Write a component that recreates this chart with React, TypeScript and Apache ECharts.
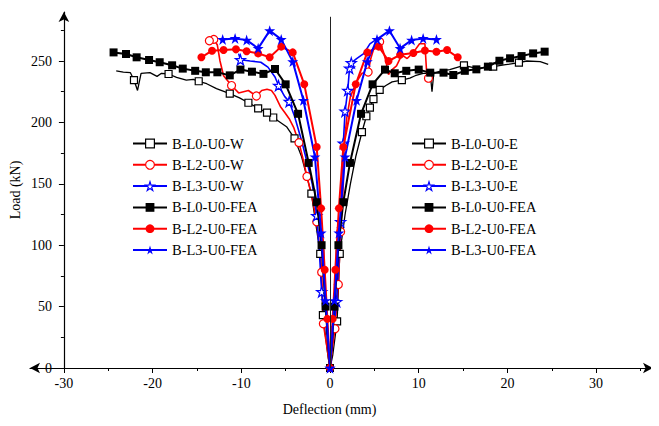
import React, { useEffect, useRef } from 'react';
import * as echarts from 'echarts';

const SERIF = '"Liberation Serif", "Times New Roman", serif';
const BLACK = '#000000';
const RED = '#ff0000';
const BLUE = '#0000ff';
const STAR =
  'path://M0,-10L2.245,-3.09L9.51,-3.09L3.633,1.18L5.88,8.09L0,3.82L-5.88,8.09L-3.633,1.18L-9.51,-3.09L-2.245,-3.09Z';

// ---- tick labels / axis ranges ----
const X_TICKS = [-30, -20, -10, 0, 10, 20, 30];
const Y_TICKS = [0, 50, 100, 150, 200, 250];

// ---- experimental curves (line path) + their marker points ----
const L0_W = [[0, 0], [-0.2, 8], [-0.8, 43], [-1.1, 93], [-2.1, 142], [-3.2, 172], [-4.0, 187], [-4.9, 196.5], [-6.4, 204], [-7.1, 208], [-8.1, 211.5], [-9.2, 216], [-10.2, 220], [-11.3, 223.5], [-12.8, 227.5], [-13.9, 231.5], [-14.8, 233.5], [-15.4, 235], [-16.2, 234.5], [-17.3, 236.7], [-18.2, 239.4], [-19.0, 240], [-19.5, 237.5], [-20.3, 240.5], [-21.3, 240], [-21.7, 226], [-22.1, 234.5], [-22.5, 240.5], [-23.3, 241], [-24.1, 242]];
const L0_W_MARKS = [[-0.8, 43], [-1.1, 93], [-2.1, 142], [-4.0, 187], [-6.4, 204], [-7.1, 208], [-8.1, 211.5], [-9.2, 216], [-11.3, 223.5], [-14.8, 233.5], [-18.2, 239.4], [-22.1, 234.5]];

const L2_W = [[0, 0], [-0.3, 15], [-0.75, 36], [-0.94, 78], [-1.2, 100], [-1.5, 119], [-2.0, 138], [-2.6, 156], [-3.1, 172], [-3.5, 183.5], [-4.1, 196], [-4.6, 203], [-5.1, 208], [-5.6, 213], [-6.2, 222], [-6.6, 226], [-7.1, 227], [-7.7, 226], [-8.3, 221.5], [-9.2, 226], [-10.3, 224], [-11.1, 230], [-12.0, 238], [-12.4, 250], [-12.7, 263], [-13.1, 267.6], [-13.6, 266.5]];
const L2_W_MARKS = [[-0.75, 36], [-0.94, 78], [-1.5, 119], [-2.6, 156], [-3.5, 183.5], [-8.3, 221.5], [-11.1, 230], [-13.1, 267.6], [-13.6, 266.5]];

const L3_W = [[0, 0], [-0.3, 25], [-0.94, 62], [-1.2, 95], [-1.5, 124], [-2.0, 150], [-2.5, 165], [-3.2, 185], [-4.0, 205], [-4.6, 217], [-5.1, 221], [-5.8, 230], [-6.2, 237], [-7.0, 245], [-7.8, 249], [-9.0, 250], [-10.1, 251], [-10.3, 256]];
const L3_W_MARKS = [[-0.94, 62], [-1.5, 124], [-4.6, 217], [-5.8, 230], [-10.1, 251]];

const L0_E = [[0, 0], [0.3, 10], [0.8, 38], [1.1, 93], [1.7, 125], [2.3, 150], [2.9, 172], [3.6, 192], [4.1, 205], [4.5, 212], [4.9, 219], [5.6, 226.5], [6.3, 230], [7.0, 233], [8.1, 234.5], [9.0, 236], [9.6, 238], [10.5, 240], [11.3, 240], [11.5, 225], [11.7, 240], [12.5, 242], [13.5, 243], [15.1, 246.5], [16.5, 244], [18.4, 245.4], [19.8, 247], [21.3, 248.6], [22.2, 250], [23.7, 249.5], [24.6, 247.3]];
const L0_E_MARKS = [[0.8, 38], [1.1, 93], [3.6, 192], [4.1, 205], [4.5, 212], [4.9, 219], [5.6, 226.5], [8.1, 234.5], [15.1, 246.5], [18.4, 245.4], [21.3, 248.6]];

const L2_E = [[0, 0], [0.25, 15], [0.56, 32], [0.94, 68], [1.2, 111], [1.5, 150], [1.6, 183], [1.9, 204], [2.3, 221], [3.0, 233], [3.6, 240], [4.3, 241], [4.6, 252], [5.1, 264], [5.6, 265.7], [6.0, 258], [6.3, 250], [6.6, 239], [7.0, 243], [7.5, 246], [8.1, 255], [8.7, 252], [9.4, 257], [10.1, 264], [10.7, 264], [10.9, 240], [11.2, 235]];
const L2_E_MARKS = [[0.56, 32], [0.94, 68], [1.2, 111], [4.3, 241], [5.6, 265.7], [11.1, 236]];

const L3_E = [[0, 0], [0.3, 25], [0.75, 54], [1.0, 90], [1.2, 119], [1.3, 150], [1.5, 183], [1.7, 209], [2.0, 226], [2.2, 244], [2.4, 248.5], [3.0, 252], [3.8, 256], [4.5, 264], [5.1, 267], [5.5, 268]];
const L3_E_MARKS = [[0.75, 54], [1.2, 119], [1.5, 183], [1.7, 209], [2.0, 226], [2.2, 244], [2.4, 248.5]];

// ---- FEA curves ----
const L0_FEA_W = [[0, 0], [-0.5, 50], [-0.95, 100], [-1.5, 135], [-2.4, 167], [-3.6, 207], [-5.0, 231], [-6.2, 243.5], [-7.5, 239.5], [-8.8, 241.3], [-10.1, 243], [-11.3, 238.3], [-12.7, 240.8], [-14.0, 240.8], [-15.2, 242], [-16.6, 243.8], [-17.8, 246.5], [-19.2, 249], [-20.4, 250.8], [-21.8, 253], [-23.0, 255.7], [-24.4, 257]];
const L0_FEA_E = [[0, 0], [0.5, 50], [0.95, 100], [1.5, 135], [2.25, 167], [3.5, 207], [4.8, 231], [6.2, 243], [7.3, 240], [8.6, 242], [10.0, 243], [11.3, 240.5], [12.8, 240.5], [13.9, 238.6], [15.2, 242], [16.5, 243.2], [17.8, 245.4], [19.1, 250.2], [20.3, 252.2], [21.6, 254], [22.9, 256.2], [24.2, 257.6]];
const L2_FEA_W = [[0, 0], [-0.3, 40], [-0.6, 80], [-1.0, 130], [-1.5, 180], [-2.9, 231], [-4.2, 257], [-5.5, 261.7], [-6.8, 253], [-8.1, 256.2], [-9.4, 258], [-10.6, 259.5], [-12.0, 259], [-13.3, 258.4], [-14.5, 253]];
const L2_FEA_E = [[0, 0], [0.3, 40], [0.6, 80], [1.0, 130], [1.5, 180], [2.9, 231], [4.2, 257], [5.5, 261.7], [6.6, 250], [7.9, 255], [9.4, 256.5], [10.7, 258.5], [12.0, 257.6], [13.2, 259], [14.4, 253]];
const L3_FEA_W = [[0, 0], [-0.5, 55], [-1.0, 110], [-1.7, 172], [-3.0, 218], [-4.2, 249.5], [-5.5, 267.6], [-6.8, 274.7], [-8.1, 260.3], [-9.4, 267], [-10.7, 268.4], [-12.1, 267.6]];
const L3_FEA_E = [[0, 0], [0.5, 55], [1.0, 110], [1.7, 172], [3.0, 218], [4.2, 249.5], [5.3, 267.6], [6.7, 274.7], [7.9, 260.3], [9.2, 267], [10.5, 268.4], [12.0, 267.6]];

const NAMES = {
  l0w: 'B-L0-U0-W', l2w: 'B-L2-U0-W', l3w: 'B-L3-U0-W',
  l0e: 'B-L0-U0-E', l2e: 'B-L2-U0-E', l3e: 'B-L3-U0-E',
  l0f: 'B-L0-U0-FEA', l2f: 'B-L2-U0-FEA', l3f: 'B-L3-U0-FEA',
};

type Sty = { color: string; symbol: string; size: number; hollow: boolean; width: number };
const STY: Record<string, Sty> = {
  l0w: { color: BLACK, symbol: 'rect', size: 7, hollow: true, width: 1.3 },
  l2w: { color: RED, symbol: 'circle', size: 8, hollow: true, width: 1.6 },
  l3w: { color: BLUE, symbol: STAR, size: 10, hollow: true, width: 1.6 },
  l0e: { color: BLACK, symbol: 'rect', size: 7, hollow: true, width: 1.3 },
  l2e: { color: RED, symbol: 'circle', size: 8, hollow: true, width: 1.6 },
  l3e: { color: BLUE, symbol: STAR, size: 10, hollow: true, width: 1.6 },
  l0f: { color: BLACK, symbol: 'rect', size: 8, hollow: false, width: 2 },
  l2f: { color: RED, symbol: 'circle', size: 8, hollow: false, width: 2 },
  l3f: { color: BLUE, symbol: STAR, size: 11, hollow: false, width: 2 },
};

function itemStyleOf(s: Sty) {
  return s.hollow
    ? { color: '#ffffff', borderColor: s.color, borderWidth: 1.2, opacity: 1 }
    : { color: s.color, borderColor: s.color, borderWidth: 0, opacity: 1 };
}

function expSeries(key: string, path: number[][], marks: number[][], withMarkLine = false): any[] {
  const s = STY[key];
  const line: any = {
    type: 'line',
    name: NAMES[key as keyof typeof NAMES],
    data: path,
    xAxisIndex: 0,
    yAxisIndex: 0,
    showSymbol: false,
    symbol: s.symbol,
    symbolSize: s.size,
    lineStyle: { color: s.color, width: s.width },
    itemStyle: itemStyleOf(s),
    z: 2,
  };
  if (withMarkLine) {
    line.markLine = {
      silent: true,
      symbol: 'none',
      label: { show: false },
      lineStyle: { color: '#222222', width: 1, type: 'solid' },
      data: [[{ coord: [0, 0] }, { coord: [0, 286] }]],
    };
  }
  const sc: any = {
    type: 'scatter',
    name: NAMES[key as keyof typeof NAMES],
    data: marks,
    xAxisIndex: 0,
    yAxisIndex: 0,
    symbol: s.symbol,
    symbolSize: s.size,
    itemStyle: itemStyleOf(s),
    z: 3,
  };
  return [line, sc];
}

function feaSeries(key: string, data: number[][]): any {
  const s = STY[key];
  return {
    type: 'line',
    name: NAMES[key as keyof typeof NAMES],
    data,
    xAxisIndex: 0,
    yAxisIndex: 0,
    showSymbol: true,
    showAllSymbol: true,
    symbol: s.symbol,
    symbolSize: s.size,
    lineStyle: { color: s.color, width: s.width },
    itemStyle: itemStyleOf(s),
    z: 4,
  };
}

function legendItem(key: string) {
  const s = STY[key];
  return {
    name: NAMES[key as keyof typeof NAMES],
    itemStyle: itemStyleOf(s),
    lineStyle: { color: s.color, width: 2 },
  };
}

const legendBase = {
  orient: 'vertical',
  top: 131,
  itemWidth: 34,
  itemHeight: 11,
  itemGap: 6.3,
  selectedMode: false,
  textStyle: { fontFamily: SERIF, fontSize: 14.5, color: BLACK },
};

export default function App() {
  const ref = useRef<HTMLDivElement>(null);
  useEffect(() => {
    if (!ref.current) return;
    const chart = echarts.init(ref.current, undefined, { renderer: 'svg' });
    const k = 8.87; // px per mm
    const x0 = 330;
    const ky = 1.228; // px per kN
    const gridLeft = x0 - 30 * k;
    const option: any = {
      animation: false,
      backgroundColor: '#ffffff',
      title: {
        text: 'Deflection (mm)',
        left: 'center',
        top: 402,
        padding: 0,
        textStyle: { fontFamily: SERIF, fontSize: 14, fontWeight: 'normal', color: BLACK },
      },
      grid: [
        { left: gridLeft, width: 70 * k, bottom: 58, height: 305 * ky, outerBoundsMode: 'none', containLabel: false },
        { left: 30, right: 6, top: 12, bottom: 58, outerBoundsMode: 'none', containLabel: false },
        { left: gridLeft, top: 12, bottom: 58, width: 10, outerBoundsMode: 'none', containLabel: false },
      ],
      legend: [
        { ...legendBase, left: 127, data: ['l0w', 'l2w', 'l3w', 'l0f', 'l2f', 'l3f'].map(legendItem) },
        { ...legendBase, left: 406, data: ['l0e', 'l2e', 'l3e', 'l0f', 'l2f', 'l3f'].map(legendItem) },
      ],
      xAxis: [
        {
          gridIndex: 0,
          type: 'value',
          min: X_TICKS[0],
          max: 40,
          interval: 10,
          axisLine: { show: false, onZero: false },
          axisTick: { show: true, length: 5, lineStyle: { color: BLACK, width: 1 } },
          minorTick: { show: true, splitNumber: 2, length: 3, lineStyle: { color: BLACK, width: 1 } },
          splitLine: { show: false },
          axisLabel: {
            showMaxLabel: false,
            margin: 8,
            fontFamily: SERIF,
            fontSize: 14,
            color: BLACK,
            formatter: (v: number) => (X_TICKS.includes(v) ? String(v) : ''),
          },
        },
        {
          gridIndex: 1,
          type: 'value',
          min: 0,
          max: 1,
          axisLine: { show: true, onZero: false, symbol: ['arrow', 'arrow'], symbolSize: [8, 10], lineStyle: { color: BLACK, width: 1.2 } },
          axisTick: { show: false },
          axisLabel: { show: false },
          splitLine: { show: false },
        },
        { gridIndex: 2, type: 'value', min: 0, max: 1, show: false },
      ],
      yAxis: [
        {
          gridIndex: 0,
          type: 'value',
          min: Y_TICKS[0],
          max: 305,
          interval: 50,
          axisLine: { show: false, onZero: false },
          axisTick: { show: true, length: 5, lineStyle: { color: BLACK, width: 1 } },
          minorTick: { show: true, splitNumber: 2, length: 3, lineStyle: { color: BLACK, width: 1 } },
          splitLine: { show: false },
          axisLabel: {
            showMaxLabel: false,
            margin: 12,
            fontFamily: SERIF,
            fontSize: 14,
            color: BLACK,
            formatter: (v: number) => (Y_TICKS.includes(v) ? String(v) : ''),
          },
        },
        { gridIndex: 1, type: 'value', min: 0, max: 1, show: false },
        {
          gridIndex: 2,
          type: 'value',
          min: 0,
          max: 1,
          name: 'Load (kN)',
          nameLocation: 'middle',
          nameGap: 41,
          nameTextStyle: { fontFamily: SERIF, fontSize: 14, color: BLACK },
          axisLine: { show: true, onZero: false, symbol: ['none', 'arrow'], symbolSize: [8, 10], lineStyle: { color: BLACK, width: 1.2 } },
          axisTick: { show: false },
          axisLabel: { show: false },
          splitLine: { show: false },
        },
      ],
      series: [
        ...expSeries('l0w', L0_W, L0_W_MARKS, true),
        ...expSeries('l2w', L2_W, L2_W_MARKS),
        ...expSeries('l3w', L3_W, L3_W_MARKS),
        ...expSeries('l0e', L0_E, L0_E_MARKS),
        ...expSeries('l2e', L2_E, L2_E_MARKS),
        ...expSeries('l3e', L3_E, L3_E_MARKS),
        feaSeries('l0f', L0_FEA_W),
        feaSeries('l0f', L0_FEA_E),
        feaSeries('l2f', L2_FEA_W),
        feaSeries('l2f', L2_FEA_E),
        feaSeries('l3f', L3_FEA_W),
        feaSeries('l3f', L3_FEA_E),
      ],
    };
    chart.setOption(option);
    return () => chart.dispose();
  }, []);
  return <div ref={ref} style={{ width: 659, height: 426, margin: -8 }} />;
}
